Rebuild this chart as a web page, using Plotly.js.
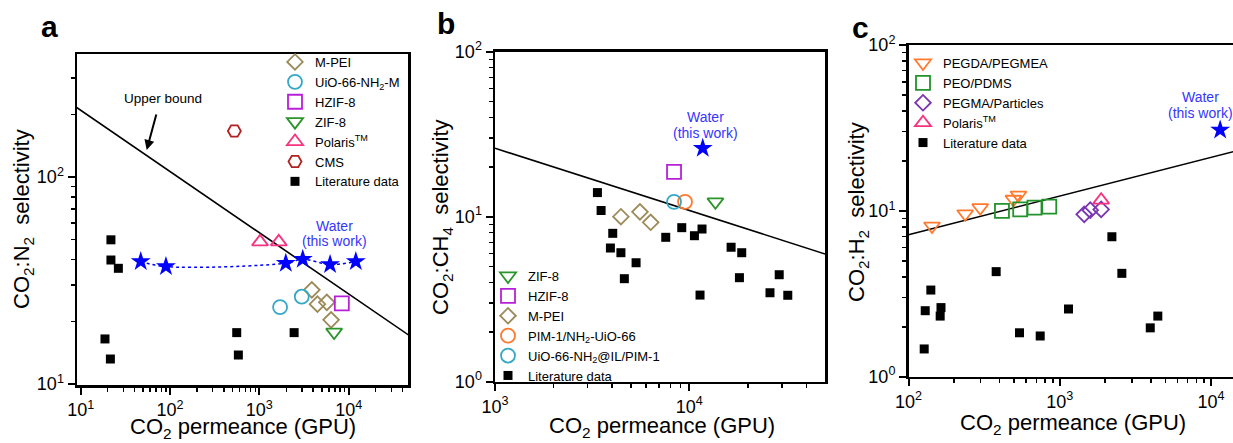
<!DOCTYPE html>
<html><head><meta charset="utf-8">
<script src="https://cdn.plot.ly/plotly-3.0.1.min.js"></script>
<style>html,body{margin:0;padding:0;background:#fff}#chart{width:1233px;height:443px}</style>
</head><body><div id="chart"></div>
<script>
// ---------- Panel a : CO2/N2 ----------
const a_lit_x = [21.8, 21.8, 26.4, 18.7, 21.5, 558, 582, 2450];
const a_lit_y = [49.7, 39.7, 36.2, 16.5, 13.2, 17.7, 13.8, 17.7];
const a_water_x = [47, 90, 1977, 3060, 6190, 12020];
const a_water_y = [39.0, 36.9, 38.3, 40.0, 37.8, 39.0];
const a_mpei_x = [3865, 4470, 5690, 6350];
const a_mpei_y = [28.5, 24.3, 24.8, 20.4];
const a_uio_x = [1706, 2985];
const a_uio_y = [23.5, 26.4];
const a_hzif_x = [8380];
const a_hzif_y = [24.5];
const a_zif_x = [6870];
const a_zif_y = [17.8];
const a_polaris_x = [1018, 1649];
const a_polaris_y = [48.6, 48.6];
const a_cms_x = [525];
const a_cms_y = [166.7];
const a_bound_x = [9, 50000];
const a_bound_y = [216.6, 16.9];

// ---------- Panel b : CO2/CH4 ----------
const b_lit_x = [3365, 3515, 4035, 3925, 4445, 4630, 5320, 7560, 9140, 10620, 11620, 11350, 16400, 18600, 18100, 29000, 26000, 32100];
const b_lit_y = [14.0, 10.9, 7.93, 6.46, 6.05, 4.21, 5.26, 7.50, 8.58, 7.67, 8.42, 3.35, 6.53, 6.05, 4.27, 4.45, 3.46, 3.34];
const b_mpei_x = [4445, 5570, 6325];
const b_mpei_y = [10.0, 10.7, 9.25];
const b_hzif_x = [8340];
const b_hzif_y = [18.7];
const b_uioil_x = [8340];
const b_uioil_y = [12.3];
const b_pim_x = [9500];
const b_pim_y = [12.3];
const b_zif_x = [13620];
const b_zif_y = [12.3];
const b_water_x = [11720];
const b_water_y = [26.0];
const b_bound_x = [1000, 50000];
const b_bound_y = [26.0, 5.94];

// ---------- Panel c : CO2/H2 ----------
const c_lit_x = [127, 129, 140.5, 164, 162, 380, 542, 743, 1143, 2213, 2576, 3970, 4455];
const c_lit_y = [1.47, 2.50, 3.33, 2.61, 2.32, 4.30, 1.84, 1.76, 2.56, 6.98, 4.20, 1.97, 2.32];
const c_pegda_x = [143, 237, 298, 494, 534];
const c_pegda_y = [8.1, 9.6, 10.45, 11.75, 12.45];
const c_peo_x = [415, 548, 681, 853];
const c_peo_y = [10.0, 10.2, 10.45, 10.6];
const c_pegma_x = [1452, 1592, 1880];
const c_pegma_y = [9.53, 10.1, 10.2];
const c_polaris_x = [1880];
const c_polaris_y = [11.6];
const c_water_x = [11510];
const c_water_y = [30.7];
const c_bound_x = [100, 20000];
const c_bound_y = [7.18, 24.7];

// ---------- tick labels ----------
const supLabels = {1: '10<sup>0</sup>', 10: '10<sup>1</sup>', 100: '10<sup>2</sup>', 1000: '10<sup>3</sup>', 10000: '10<sup>4</sup>'};

const W = 1233, H = 443;
const FONT = 'Liberation Sans, Arial, sans-serif';
const px = v => v / W;
const py = v => 1 - v / H;

const C = {
  mpei: '#9c8a58', uio: '#35a8c6', hzif: '#b820d8', zif: '#2a962a', polaris: '#f5337f',
  cms: '#b22020', pim: '#ff7a2e', pegda: '#ff7a2e', peo: '#22922a', pegma: '#7a35b0', water: '#0000ff'
};

function minorVals(lo, hi) {
  const out = [];
  for (let d = Math.floor(lo); d < Math.ceil(hi); d++) {
    for (let k = 2; k <= 9; k++) {
      const v = k * Math.pow(10, d);
      const l = Math.log10(v);
      if (l > lo && l < hi) out.push(v);
    }
  }
  return out;
}

function axis(domain, range, majors, anchor) {
  return {
    type: 'log', domain: domain, range: range, autorange: false, anchor: anchor,
    showline: true, linewidth: 2.5, linecolor: '#000', mirror: true,
    showgrid: false, zeroline: false,
    ticks: 'outside', ticklen: 7, tickwidth: 2, tickcolor: '#000',
    tickmode: 'array', tickvals: majors, ticktext: majors.map(v => supLabels[v]),
    tickfont: {family: FONT, size: 18, color: '#000'},
    minor: {tickmode: 'array', tickvals: minorVals(range[0], range[1]), ticks: 'outside', ticklen: 4, tickwidth: 1.5, tickcolor: '#000', showgrid: false}
  };
}

function pts(x, y, name, symbol, color, size, xa, ya, lg, show) {
  const filled = symbol.indexOf('-open') < 0;
  return {
    type: 'scatter', mode: 'markers', x: x, y: y, name: name,
    xaxis: xa, yaxis: ya, legend: lg, showlegend: show !== false, cliponaxis: false,
    marker: {symbol: symbol, size: size, color: color, line: {color: color, width: filled ? 0 : 1.8}}
  };
}
function bound(x, y, xa, ya) {
  return {type: 'scatter', mode: 'lines', x: x, y: y, xaxis: xa, yaxis: ya, showlegend: false,
    line: {color: '#000', width: 1.6}, hoverinfo: 'skip'};
}

const traces = [
  // a
  bound(a_bound_x, a_bound_y, 'x', 'y'),
  {type: 'scatter', mode: 'lines+markers', x: a_water_x, y: a_water_y, xaxis: 'x', yaxis: 'y', showlegend: false,
   line: {color: C.water, width: 1.5, dash: 'dot', shape: 'spline'}, marker: {symbol: 'star', size: 15, color: C.water}},
  pts(a_mpei_x, a_mpei_y, 'M-PEI', 'diamond-open', C.mpei, 12, 'x', 'y', 'legend'),
  pts(a_uio_x, a_uio_y, 'UiO-66-NH<sub>2</sub>-M', 'circle-open', C.uio, 14, 'x', 'y', 'legend'),
  pts(a_hzif_x, a_hzif_y, 'HZIF-8', 'square-open', C.hzif, 14, 'x', 'y', 'legend'),
  pts(a_zif_x, a_zif_y, 'ZIF-8', 'triangle-down-open', C.zif, 14, 'x', 'y', 'legend'),
  pts(a_polaris_x, a_polaris_y, 'Polaris<sup>TM</sup>', 'triangle-up-open', C.polaris, 14, 'x', 'y', 'legend'),
  pts(a_cms_x, a_cms_y, 'CMS', 'hexagon2-open', C.cms, 13, 'x', 'y', 'legend'),
  pts(a_lit_x, a_lit_y, 'Literature data', 'square', '#000', 9, 'x', 'y', 'legend'),
  // b
  bound(b_bound_x, b_bound_y, 'x2', 'y2'),
  pts(b_water_x, b_water_y, 'Water', 'star', C.water, 15, 'x2', 'y2', 'legend2', false),
  pts(b_zif_x, b_zif_y, 'ZIF-8', 'triangle-down-open', C.zif, 14, 'x2', 'y2', 'legend2'),
  pts(b_hzif_x, b_hzif_y, 'HZIF-8', 'square-open', C.hzif, 14, 'x2', 'y2', 'legend2'),
  pts(b_mpei_x, b_mpei_y, 'M-PEI', 'diamond-open', C.mpei, 12, 'x2', 'y2', 'legend2'),
  pts(b_pim_x, b_pim_y, 'PIM-1/NH<sub>2</sub>-UiO-66', 'circle-open', C.pim, 14, 'x2', 'y2', 'legend2'),
  pts(b_uioil_x, b_uioil_y, 'UiO-66-NH<sub>2</sub>@IL/PIM-1', 'circle-open', C.uio, 14, 'x2', 'y2', 'legend2'),
  pts(b_lit_x, b_lit_y, 'Literature data', 'square', '#000', 9, 'x2', 'y2', 'legend2'),
  // c
  bound(c_bound_x, c_bound_y, 'x3', 'y3'),
  pts(c_water_x, c_water_y, 'Water', 'star', C.water, 15, 'x3', 'y3', 'legend3', false),
  pts(c_pegda_x, c_pegda_y, 'PEGDA/PEGMEA', 'triangle-down-open', C.pegda, 14, 'x3', 'y3', 'legend3'),
  pts(c_peo_x, c_peo_y, 'PEO/PDMS', 'square-open', C.peo, 14, 'x3', 'y3', 'legend3'),
  pts(c_pegma_x, c_pegma_y, 'PEGMA/Particles', 'diamond-open', C.pegma, 12, 'x3', 'y3', 'legend3'),
  pts(c_polaris_x, c_polaris_y, 'Polaris<sup>TM</sup>', 'triangle-up-open', C.polaris, 14, 'x3', 'y3', 'legend3'),
  pts(c_lit_x, c_lit_y, 'Literature data', 'square', '#000', 9, 'x3', 'y3', 'legend3')
];

function ann(text, x, y, size, opts) {
  return Object.assign({xref: 'paper', yref: 'paper', x: px(x), y: py(y), text: text, showarrow: false,
    xanchor: 'center', yanchor: 'middle', font: {family: FONT, size: size, color: '#000'}}, opts || {});
}
const blue = {font: {family: FONT, size: 14, color: '#3535ff'}};

const legendBase = {bgcolor: 'rgba(0,0,0,0)', borderwidth: 0, font: {family: FONT, size: 13, color: '#000'},
  xanchor: 'left', yanchor: 'top', tracegroupgap: 0, itemwidth: 30};

const layout = {
  width: W, height: H, margin: {l: 0, r: 0, t: 0, b: 0}, paper_bgcolor: '#fff', plot_bgcolor: '#fff',
  font: {family: FONT, color: '#000'},
  xaxis: axis([px(77), px(408)], [0.9586, 4.664], [10, 100, 1000, 10000], 'y'),
  yaxis: axis([py(385), py(54)], [0.995, 2.594], [10, 100], 'x'),
  xaxis2: axis([px(495), px(825)], [3, 4.698], [1000, 10000], 'y2'),
  yaxis2: axis([py(381.7), py(51.7)], [0, 2], [1, 10, 100], 'x2'),
  xaxis3: axis([px(908.5), 1], [2, 4.146], [100, 1000, 10000], 'y3'),
  yaxis3: axis([py(376.7), py(45)], [0, 2], [1, 10, 100], 'x3'),
  legend: Object.assign({}, legendBase, {x: px(275), y: py(47)}),
  legend2: Object.assign({}, legendBase, {x: px(488), y: py(261)}),
  legend3: Object.assign({}, legendBase, {x: px(903), y: py(48)}),
  annotations: [
    ann('<b>a</b>', 50, 26, 30), ann('<b>b</b>', 446, 24, 30), ann('<b>c</b>', 860, 28, 30),
    ann('CO<sub>2</sub>:N<sub>2</sub>  selectivity', 23, 219, 22, {textangle: -90}),
    ann('CO<sub>2</sub>:CH<sub>4</sub>  selectivity', 442, 217, 22, {textangle: -90}),
    ann('CO<sub>2</sub>:H<sub>2</sub>  selectivity', 858, 212, 22, {textangle: -90}),
    ann('CO<sub>2</sub> permeance (GPU)', 243, 428, 22),
    ann('CO<sub>2</sub> permeance (GPU)', 662, 427, 22),
    ann('CO<sub>2</sub> permeance (GPU)', 1073, 424, 22),
    ann('Water', 334, 226, 14, blue), ann('(this work)', 334, 241, 14, blue),
    ann('Water', 705, 117, 14, blue), ann('(this work)', 705, 133, 14, blue),
    ann('Water', 1200, 97, 14, blue), ann('(this work)', 1200, 113, 14, blue),
    ann('Upper bound', 163, 98, 13.5),
    {xref: 'paper', yref: 'paper', x: px(146.7), y: py(150), ax: 10, ay: -37, text: '', showarrow: true,
     arrowhead: 2, arrowsize: 1, arrowwidth: 2, arrowcolor: '#000', standoff: 0}
  ]
};

Plotly.newPlot('chart', traces, layout, {staticPlot: true, displayModeBar: false});
</script>
</body></html>
